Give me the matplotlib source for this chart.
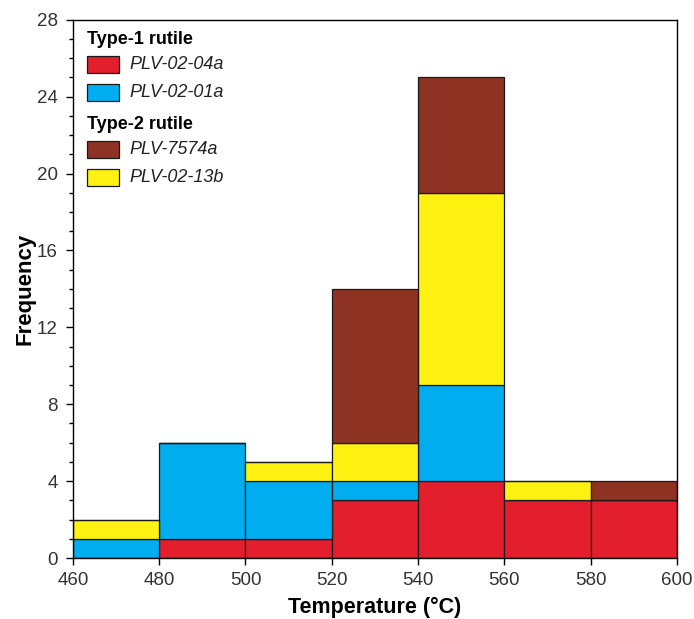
import numpy as np
import matplotlib
matplotlib.use("Agg")
import matplotlib.pyplot as plt
from matplotlib.patches import Rectangle

plt.rcParams['font.family'] = ['Liberation Sans', 'DejaVu Sans']

# bin edges (temperature, deg C)
bin_left = np.array([460, 480, 500, 520, 540, 560, 580])
bin_width = 20

# counts per sample, stacked bottom -> top
plv_02_04a = np.array([0, 1, 1, 3, 4, 3, 3])
plv_02_01a = np.array([1, 5, 3, 1, 5, 0, 0])
plv_02_13b = np.array([1, 0, 1, 2, 10, 1, 0])
plv_7574a = np.array([0, 0, 0, 8, 6, 0, 1])

series = [
    ("PLV-02-04a", plv_02_04a, "#E31E2D"),
    ("PLV-02-01a", plv_02_01a, "#00AEEF"),
    ("PLV-02-13b", plv_02_13b, "#FFF212"),
    ("PLV-7574a", plv_7574a, "#8E3223"),
]
colors = {name: c for name, _, c in series}

fig = plt.figure(figsize=(6.94, 6.19), dpi=100)
ax = fig.add_axes([0.105, 0.0985, 0.8705, 0.8695])

bottom = np.zeros(len(bin_left))
for name, vals, c in series:
    ax.bar(bin_left, vals, width=bin_width, bottom=bottom, align='edge',
           color=c, edgecolor='#1a1a1a', linewidth=0.9)
    bottom = bottom + vals

ax.set_xlim(460, 600)
ax.set_ylim(0, 28)
ax.set_xticks(np.arange(460, 601, 20))
ax.set_yticks(np.arange(0, 29, 4))
ax.set_yticks(np.arange(0, 29, 1), minor=True)
ax.tick_params(axis='both', which='major', direction='out', length=5, labelsize=13.5,
               width=1, labelcolor='#333333')
ax.tick_params(axis='x', which='major', pad=5)
ax.tick_params(axis='y', which='major', pad=6)
ax.tick_params(axis='y', which='minor', direction='out', length=3, width=1)
for s in ax.spines.values():
    s.set_linewidth(1)

ax.set_xlabel("Temperature (°C)", fontsize=15.5, fontweight='bold', labelpad=6)
ax.set_ylabel("Frequency", fontsize=16, fontweight='bold', labelpad=1)

# legend drawn by hand in axes coordinates
def ax_xy(px, py):
    return (px - 73) / 604, (558 - py) / 538

entries = [
    ("header", "Type-1 rutile", 40),
    ("patch", "PLV-02-04a", 65),
    ("patch", "PLV-02-01a", 93),
    ("header", "Type-2 rutile", 125),
    ("patch", "PLV-7574a", 150),
    ("patch", "PLV-02-13b", 178),
]
for kind, label, py in entries:
    if kind == "header":
        x, y = ax_xy(87, py)
        ax.text(x, y, label, transform=ax.transAxes, fontsize=13,
                fontweight='bold', va='center', ha='left')
    else:
        x0, y0 = ax_xy(87, py + 8.5)
        x1, y1 = ax_xy(119, py - 8.5)
        ax.add_patch(Rectangle((x0, y0), x1 - x0, y1 - y0, transform=ax.transAxes,
                               facecolor=colors[label], edgecolor='#1a1a1a',
                               linewidth=0.9, clip_on=False))
        tx, ty = ax_xy(130, py)
        ax.text(tx, ty, label, transform=ax.transAxes, fontsize=13,
                fontstyle='italic', va='center', ha='left', color='#222222')

fig.savefig("out.png", dpi=100)
